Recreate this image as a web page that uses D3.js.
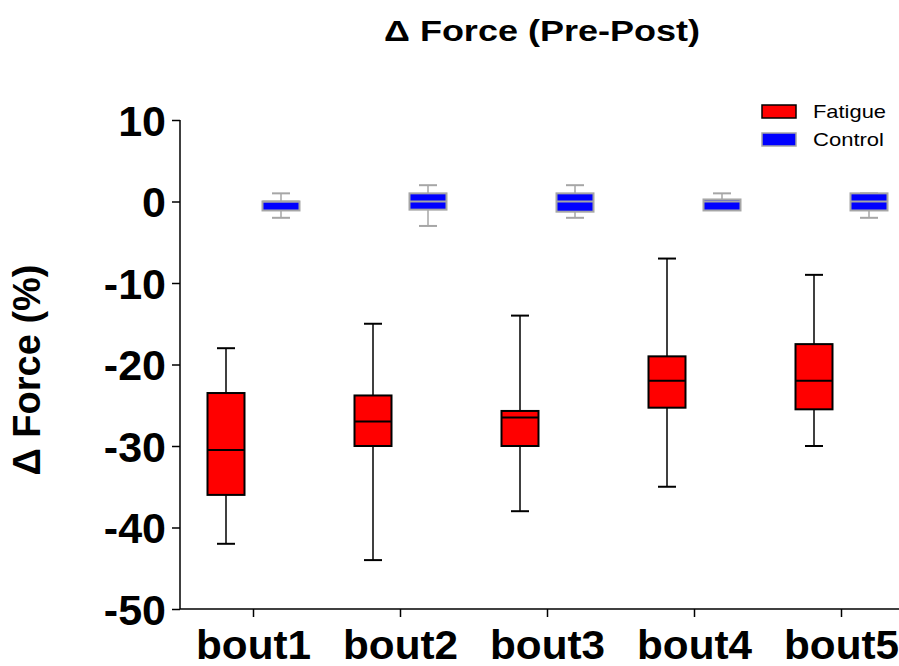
<!DOCTYPE html>
<html>
<head>
<meta charset="utf-8">
<script src="https://cdn.jsdelivr.net/npm/d3@7"></script>
<style>
  html, body { margin: 0; padding: 0; background: #fff; }
  svg { display: block; font-family: "Liberation Sans", Arial, sans-serif; }
</style>
</head>
<body>
<svg id="chart" width="899" height="666"></svg>
<script>
// Bouts along the x axis
const bouts = ["bout1", "bout2", "bout3", "bout4", "bout5"];
const yTicks = [10, 0, -10, -20, -30, -40, -50];

// Five-number summaries (min, Q1, median, Q3, max) of the force change, in %
const fatigueMin    = [-42, -44, -38, -35, -30];
const fatigueQ1     = [-36, -30, -30, -25.3, -25.5];
const fatigueMedian = [-30.5, -27, -26.5, -22, -22];
const fatigueQ3     = [-23.5, -23.8, -25.7, -19, -17.5];
const fatigueMax    = [-18, -15, -14, -7, -9];

const controlMin    = [-2, -3, -2, -1, -2];
const controlQ1     = [-1.1, -1, -1.25, -1.1, -1.1];
const controlMedian = [0, 0, 0, 0, 0];
const controlQ3     = [0, 1, 1, 0.25, 1];
const controlMax    = [1, 2, 2, 1, 1];

const seriesNames = ["Fatigue", "Control"];

const svg = d3.select("#chart");
const plotLeft = 180, plotBottom = 609, plotTop = 120;

const x = d3.scaleBand().domain(bouts).range([plotLeft, plotLeft + 147 * bouts.length]).padding(0);
const y = d3.scaleLinear().domain([-50, 10]).range([plotBottom, plotTop]);

const series = [
  { name: "Fatigue", fill: "#ff0000", stroke: "#000000", wStroke: "#000000", offset: -27.5,
    min: fatigueMin, q1: fatigueQ1, med: fatigueMedian, q3: fatigueQ3, max: fatigueMax },
  { name: "Control", fill: "#0000ff", stroke: "#a6a6a6", wStroke: "#a6a6a6", offset: 27.5,
    min: controlMin, q1: controlQ1, med: controlMedian, q3: controlQ3, max: controlMax }
];

const boxW = 37, capW = 18;

series.forEach(s => {
  const g = svg.append("g").attr("class", "series-" + s.name);
  const rows = bouts.map((b, i) => ({
    b, min: s.min[i], q1: s.q1[i], med: s.med[i], q3: s.q3[i], max: s.max[i],
    cx: x(b) + x.bandwidth() / 2 + s.offset
  }));
  const box = g.selectAll("g.box").data(rows).join("g").attr("class", "box");
  // whiskers
  box.append("line")
    .attr("x1", d => d.cx).attr("x2", d => d.cx)
    .attr("y1", d => y(d.q3)).attr("y2", d => y(d.max))
    .attr("stroke", s.wStroke).attr("stroke-width", 1.5);
  box.append("line")
    .attr("x1", d => d.cx).attr("x2", d => d.cx)
    .attr("y1", d => y(d.q1)).attr("y2", d => y(d.min))
    .attr("stroke", s.wStroke).attr("stroke-width", 1.5);
  // caps
  box.append("line")
    .attr("x1", d => d.cx - capW / 2).attr("x2", d => d.cx + capW / 2)
    .attr("y1", d => y(d.max)).attr("y2", d => y(d.max))
    .attr("stroke", s.wStroke).attr("stroke-width", 2);
  box.append("line")
    .attr("x1", d => d.cx - capW / 2).attr("x2", d => d.cx + capW / 2)
    .attr("y1", d => y(d.min)).attr("y2", d => y(d.min))
    .attr("stroke", s.wStroke).attr("stroke-width", 2);
  // box
  box.append("rect")
    .attr("x", d => d.cx - boxW / 2).attr("width", boxW)
    .attr("y", d => y(d.q3)).attr("height", d => y(d.q1) - y(d.q3))
    .attr("fill", s.fill).attr("stroke", s.stroke).attr("stroke-width", 2);
  // median
  box.append("line")
    .attr("x1", d => d.cx - boxW / 2).attr("x2", d => d.cx + boxW / 2)
    .attr("y1", d => y(d.med)).attr("y2", d => y(d.med))
    .attr("stroke", s.stroke).attr("stroke-width", 2);
});

// Axes
const yAxis = svg.append("g").attr("transform", `translate(${plotLeft},0)`)
  .call(d3.axisLeft(y).tickValues(yTicks).tickFormat(d => String(d))
    .tickSize(8).tickPadding(6).tickSizeOuter(0));
const xAxis = svg.append("g").attr("transform", `translate(0,${plotBottom})`)
  .call(d3.axisBottom(x).tickSize(8).tickPadding(5).tickSizeOuter(0));

[yAxis, xAxis].forEach(a => {
  a.select(".domain").attr("stroke", "#000").attr("stroke-width", 1.5);
  a.selectAll(".tick line").attr("stroke", "#000").attr("stroke-width", 1.5);
  a.selectAll(".tick text")
    .attr("fill", "#000")
    .attr("font-family", "'Liberation Sans', Arial, sans-serif")
    .attr("font-weight", "bold");
});
yAxis.selectAll(".tick text").attr("font-size", 43).attr("dy", "0.36em");
xAxis.selectAll(".tick text")
  .attr("font-size", 40).attr("y", 50).attr("dy", 0)
  .attr("textLength", 115).attr("lengthAdjust", "spacingAndGlyphs");
// y axis line reaches from the bottom axis to the top tick
yAxis.select(".domain").attr("d", `M0,${plotBottom}V${plotTop}`);
xAxis.select(".domain").attr("d", `M${plotLeft},0H899`);

// Titles
svg.append("text")
  .attr("x", 542).attr("y", 41)
  .attr("text-anchor", "middle")
  .attr("font-weight", "bold").attr("font-size", 29)
  .attr("textLength", 316).attr("lengthAdjust", "spacingAndGlyphs")
  .text("\u0394 Force (Pre-Post)");

svg.append("text")
  .attr("transform", "translate(40,370) rotate(-90)")
  .attr("text-anchor", "middle")
  .attr("font-weight", "bold").attr("font-size", 38)
  .text("\u0394 Force (%)");

// Legend
const legendTextLen = [73, 71];
const legend = svg.append("g").attr("class", "legend");
series.forEach((s, i) => {
  const ly = 105 + i * 28;
  legend.append("rect")
    .attr("x", 762).attr("y", ly).attr("width", 34).attr("height", 13)
    .attr("fill", s.fill).attr("stroke", s.stroke).attr("stroke-width", 1.5);
  legend.append("text")
    .attr("x", 813).attr("y", ly + 13)
    .attr("font-size", 19)
    .attr("textLength", legendTextLen[i]).attr("lengthAdjust", "spacingAndGlyphs")
    .text(seriesNames[i]);
});
</script>
</body>
</html>
